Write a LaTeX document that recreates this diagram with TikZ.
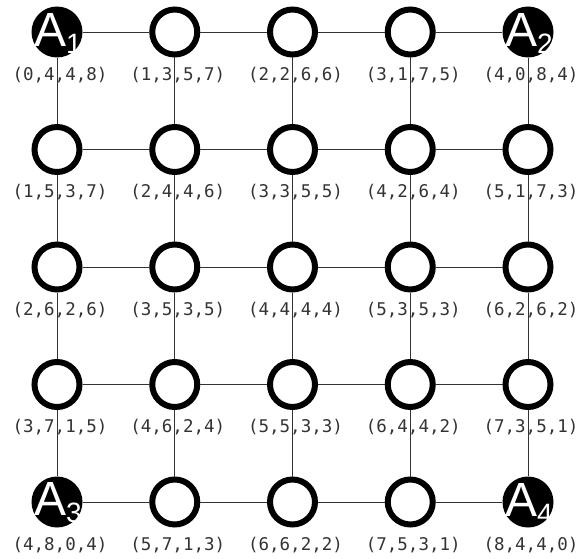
\documentclass[tikz,border=0pt]{standalone}
\usepackage{fontspec}
\setmonofont{DejaVu Sans Mono}
\setsansfont{Liberation Sans}
\begin{document}
\begin{tikzpicture}[x=1pt,y=-1pt,
  opennode/.style={circle,draw=black,line width=6pt,fill=white,minimum size=45pt,inner sep=0pt},
  fillnode/.style={circle,fill=black,minimum size=51pt,inner sep=0pt},
  atext/.style={text=white,inner sep=0pt,font=\sffamily},
  coord/.style={inner sep=0pt,font=\ttfamily\fontsize{17.5}{18}\selectfont,text=black!80},
  gridline/.style={line width=0.9pt,draw=black!80}]
\useasboundingbox (0,0) rectangle (581,559);
\foreach \i in {0,...,4}{
  \foreach \j in {0,...,4}{
    \pgfmathtruncatemacro{\a}{\i+\j}
    \pgfmathtruncatemacro{\b}{4-\i+\j}
    \pgfmathtruncatemacro{\c}{4+\i-\j}
    \pgfmathtruncatemacro{\d}{8-\i-\j}
    \pgfmathtruncatemacro{\corner}{(\i==0||\i==4)&&(\j==0||\j==4)}
    \ifnum\corner=1
      \node[fillnode] (n-\i-\j) at ({57+117.75*\i},{32+117.5*\j}) {};
    \else
      \node[opennode] (n-\i-\j) at ({57+117.75*\i},{32+117.5*\j}) {};
    \fi
    \node[coord] (l-\i-\j) at ({60+117.75*\i},{75+117.5*\j}) {(\a,\b,\c,\d)};
  }
}
\foreach \k/\i/\j in {1/0/0,2/4/0,3/0/4,4/4/4}{
  \node[atext] (a\k) at ([xshift=1pt,yshift=-1pt]n-\i-\j) {\makebox[0pt]{\fontsize{48}{48}\selectfont A\raisebox{-7pt}{\fontsize{28}{28}\selectfont \k}}};
}
\foreach \i in {0,...,4}{
  \foreach \j in {0,...,3}{
    \pgfmathtruncatemacro{\k}{\j+1}
    \draw[gridline] (n-\i-\j) -- (n-\i-\k);
    \draw[gridline] (n-\j-\i) -- (n-\k-\i);
  }
}
\end{tikzpicture}
\end{document}
